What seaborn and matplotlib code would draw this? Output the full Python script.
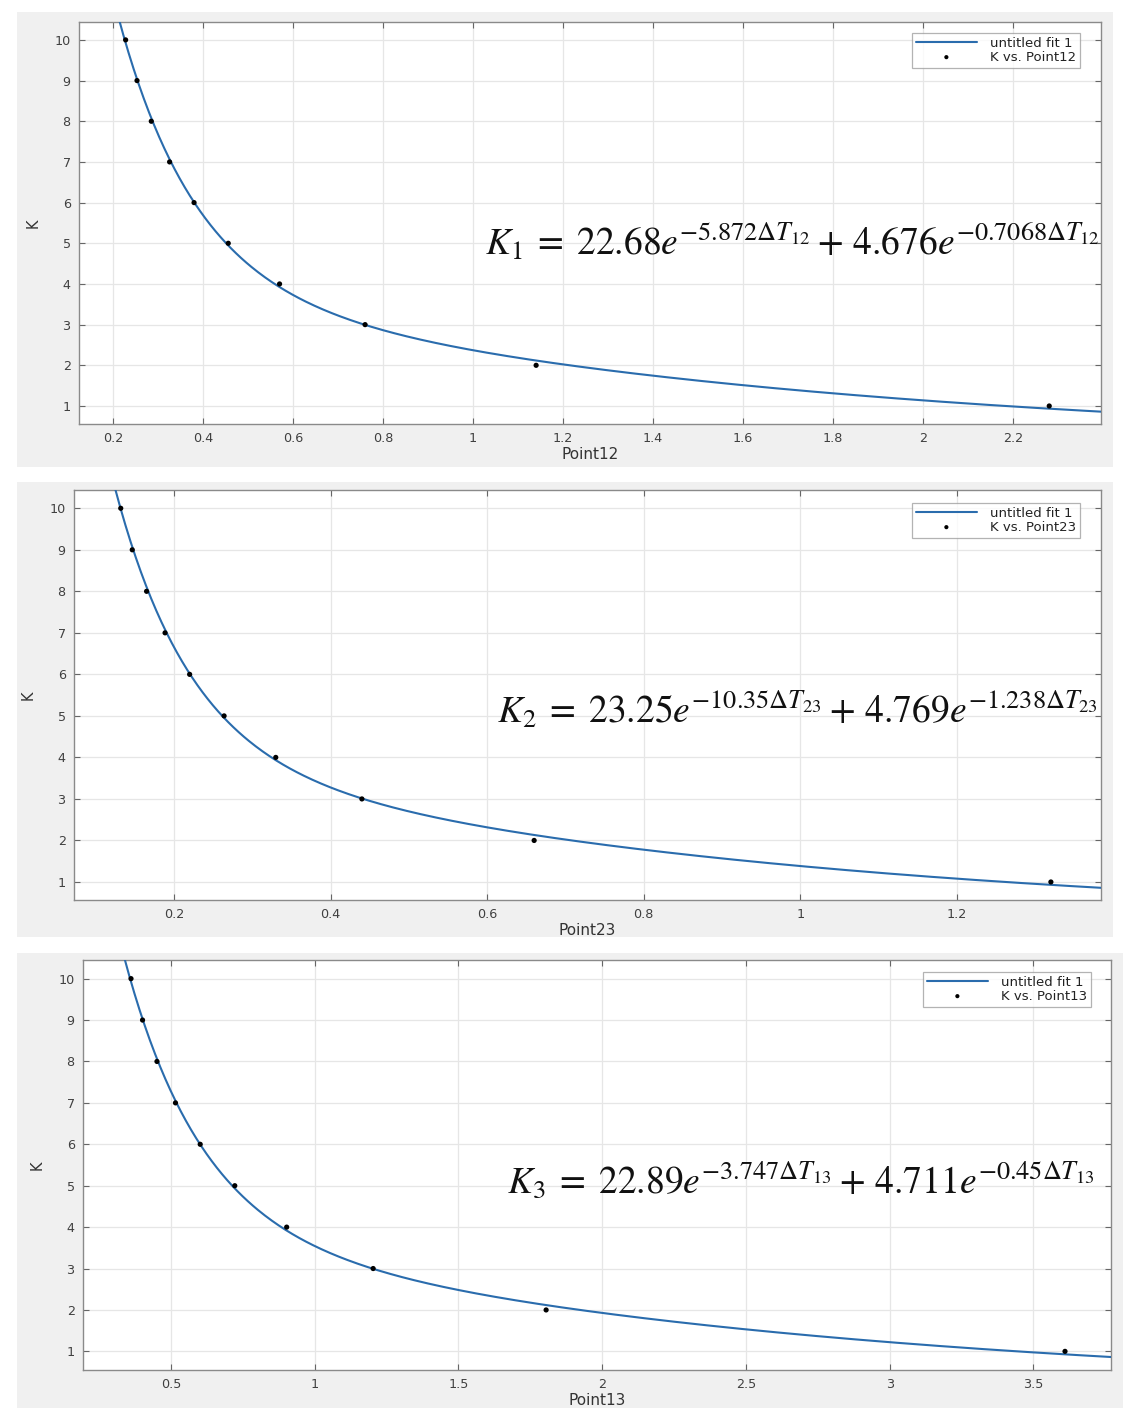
import numpy as np
import pandas as pd
import matplotlib
matplotlib.use("Agg")
import matplotlib.pyplot as plt
from matplotlib.patches import Rectangle
import seaborn as sns

# ---------------- data ----------------
K_values = [10, 9, 8, 7, 6, 5, 4, 3, 2, 1]
point12 = [0.228, 0.2533, 0.285, 0.3257, 0.38, 0.456, 0.57, 0.76, 1.14, 2.28]
point23 = [0.132, 0.1467, 0.165, 0.1886, 0.22, 0.264, 0.33, 0.44, 0.66, 1.32]
point13 = [0.361, 0.4011, 0.4513, 0.5157, 0.6017, 0.722, 0.9025, 1.2033, 1.805, 3.61]

# fitted coefficients (a, b, c, d) of K = a*exp(b*x) + c*exp(d*x), as printed on the chart
fit12 = [22.68, -5.872, 4.676, -0.7068]
fit23 = [23.25, -10.35, 4.769, -1.238]
fit13 = [22.89, -3.747, 4.711, -0.45]

xlabels = ["Point12", "Point23", "Point13"]
eq_texts = [
    r"$K_1\;=\;22.68e^{-5.872\Delta T_{12}}+\,4.676e^{-0.7068\Delta T_{12}}$",
    r"$K_2\;=\;23.25e^{-10.35\Delta T_{23}}+\,4.769e^{-1.238\Delta T_{23}}$",
    r"$K_3\;=\;22.89e^{-3.747\Delta T_{13}}+\,4.711e^{-0.45\Delta T_{13}}$",
]
xticks_list = [
    [0.2, 0.4, 0.6, 0.8, 1, 1.2, 1.4, 1.6, 1.8, 2, 2.2],
    [0.2, 0.4, 0.6, 0.8, 1, 1.2],
    [0.5, 1, 1.5, 2, 2.5, 3, 3.5],
]
xlims = [(0.1244, 2.395), (0.0723, 1.384), (0.194, 3.77)]
ylims = [(0.557, 10.44), (0.566, 10.44), (0.55, 10.45)]

# ---------------- layout (pixels) ----------------
W, H = 1138, 1421
panel_boxes = [(17, 12, 1113, 467), (17, 482, 1113, 937), (17, 953, 1123, 1408)]
axes_boxes = [(79, 22, 1101, 424), (74, 490, 1101, 900), (83, 960, 1111, 1370)]
legend_anchor = [(1080, 33), (1080, 503), (1091, 972)]
eq_pos = [(1100, 242), (1098, 710), (1095, 1180)]

sns.set_theme(style="whitegrid")
plt.rcParams["font.family"] = ["DejaVu Sans"]
plt.rcParams["mathtext.fontset"] = "stix"

fig = plt.figure(figsize=(W / 100, H / 100), dpi=100)
fig.patch.set_facecolor("white")

for (x0, y0, x1, y1) in panel_boxes:
    fig.patches.append(Rectangle((x0 / W, 1 - y1 / H), (x1 - x0) / W, (y1 - y0) / H,
                                 transform=fig.transFigure, facecolor="#f0f0f0",
                                 edgecolor="none", zorder=-10))

blue = "#2a6cad"
tick_color = "#404040"

for i in range(3):
    x0, y0, x1, y1 = axes_boxes[i]
    ax = fig.add_axes([x0 / W, 1 - y1 / H, (x1 - x0) / W, (y1 - y0) / H])
    ax.set_facecolor("white")
    pts = [point12, point23, point13][i]
    a, b, c, d = [fit12, fit23, fit13][i]
    xg = np.linspace(xlims[i][0], xlims[i][1], 600)
    curve = pd.DataFrame({"x": xg, "K": a * np.exp(b * xg) + c * np.exp(d * xg)})
    scat = pd.DataFrame({"x": pts, "K": K_values})

    sns.lineplot(data=curve, x="x", y="K", ax=ax, color=blue, lw=1.5,
                 label="untitled fit 1", zorder=3)
    sns.scatterplot(data=scat, x="x", y="K", ax=ax, color="black", s=14,
                    edgecolor="none", marker="o", label="K vs. " + xlabels[i], zorder=4)

    ax.set_xlim(*xlims[i])
    ax.set_ylim(*ylims[i])
    ax.set_xticks(xticks_list[i])
    ax.set_xticklabels([f"{v:g}" for v in xticks_list[i]])
    ax.set_yticks(range(1, 11))
    ax.grid(True, color="#e6e6e6", lw=0.9)
    ax.tick_params(direction="in", length=4, width=0.8, colors="#666666",
                   labelcolor=tick_color, labelsize=9.2, top=True, right=True,
                   bottom=True, left=True, pad=6)
    for s in ax.spines.values():
        s.set_visible(True)
        s.set_color("#8a8a8a")
        s.set_linewidth(1.0)
    ax.set_xlabel(xlabels[i], fontsize=11, color="#333333", labelpad=1)
    ax.set_ylabel("K", fontsize=10.5, color="#333333", labelpad=10)

    lx, ly = legend_anchor[i]
    leg = ax.legend(loc="upper right",
                    bbox_to_anchor=((lx - x0) / (x1 - x0), 1 - (ly - y0) / (y1 - y0)),
                    borderaxespad=0, fontsize=9.5, frameon=True, fancybox=False,
                    handlelength=4.6, handletextpad=1.0, labelspacing=0.05,
                    borderpad=0.3, markerscale=0.8)
    leg.get_frame().set_edgecolor("#a0a0a0")
    leg.get_frame().set_linewidth(0.9)
    for t in leg.get_texts():
        t.set_color("#222222")

    ex, ey = eq_pos[i]
    fig.text(ex / W, 1 - ey / H, eq_texts[i], ha="right", va="center",
             fontsize=27, color="#111111", zorder=10)

fig.savefig("out.png", dpi=100, facecolor="white")
